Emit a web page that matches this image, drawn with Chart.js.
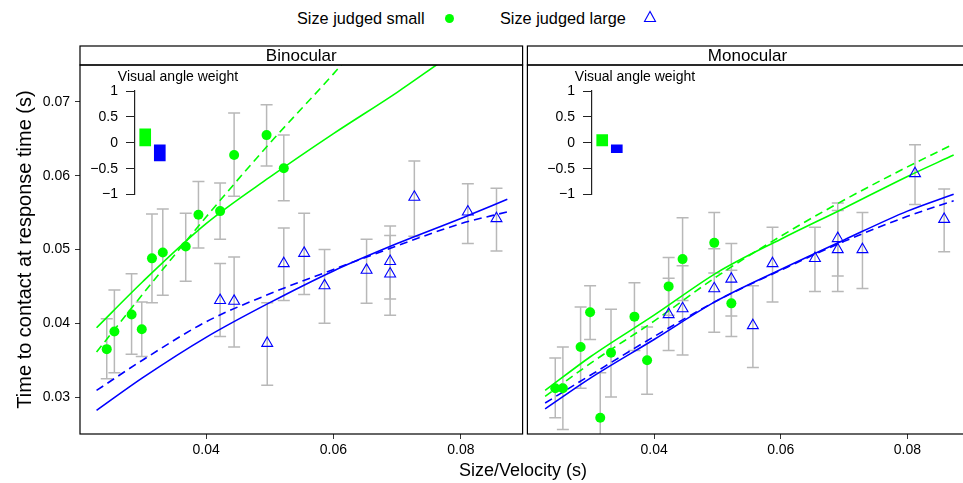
<!DOCTYPE html>
<html><head><meta charset="utf-8">
<script src="https://cdn.jsdelivr.net/npm/chart.js@4/dist/chart.umd.min.js"></script>
<style>
html,body{margin:0;padding:0;background:#fff;overflow:hidden;width:963px;height:483px;font-family:"Liberation Sans",Arial,sans-serif;color:#000;}
.abs{position:absolute;}
.lg{position:absolute;top:8px;line-height:20px;font-size:16.3px;white-space:nowrap;}
</style></head><body>
<div class="lg" id="lgSmall" style="left:297px;"></div>
<div class="abs" style="left:444.5px;top:13.5px;width:9px;height:9px;border-radius:50%;background:#00ff00;"></div>
<div class="lg" id="lgLarge" style="left:500px;"></div>
<svg class="abs" style="left:643px;top:10px;" width="14" height="13"><polygon points="7,1.5 1.5,11.5 12.5,11.5" fill="none" stroke="#0000ff" stroke-width="1.1"/></svg>
<canvas id="left" class="abs" style="left:0;top:0;" width="530" height="483"></canvas>
<canvas id="right" class="abs" style="left:520px;top:0;" width="455" height="483"></canvas>
<canvas id="insetL" class="abs" style="left:85px;top:66px;" width="186" height="145"></canvas>
<canvas id="insetR" class="abs" style="left:542px;top:66px;" width="186" height="145"></canvas>
<div class="abs" id="xTitle" style="left:373px;width:300px;top:460px;line-height:20px;font-size:18px;text-align:center;"></div>
<script>
const FONT = '"Liberation Sans", Arial, sans-serif';
const seriesNames = ['Size judged small', 'Size judged large'];
const panelNames = ['Binocular', 'Monocular'];
const xAxisTitle = 'Size/Velocity (s)';
const yAxisTitle = 'Time to contact at response time (s)';
const insetTitle = 'Visual angle weight';
const xTicks = [0.04, 0.06, 0.08];
const xTickLabels = ['0.04', '0.06', '0.08'];
const yTicks = [0.03, 0.04, 0.05, 0.06, 0.07];
const yTickLabels = ['0.03', '0.04', '0.05', '0.06', '0.07'];
const weightTicks = [-1, -0.5, 0, 0.5, 1];
const weightTickLabels = ['\u22121', '\u22120.5', '0', '0.5', '1'];

// Binocular - size judged small
const binoSmallX  = [0.0244, 0.0256, 0.0283, 0.0299, 0.0315, 0.0332, 0.0368, 0.0388, 0.0422, 0.0444, 0.0495, 0.0522];
const binoSmallY  = [0.0365, 0.0389, 0.0412, 0.0392, 0.0488, 0.0496, 0.0504, 0.0547, 0.0552, 0.0628, 0.0655, 0.0610];
const binoSmallLo = [0.0325, 0.0333, 0.0358, 0.0355, 0.0428, 0.0438, 0.0457, 0.0502, 0.0514, 0.0572, 0.0613, 0.0566];
const binoSmallHi = [0.0406, 0.0445, 0.0467, 0.0429, 0.0548, 0.0555, 0.0549, 0.0592, 0.0590, 0.0685, 0.0696, 0.0655];
// Binocular - size judged large
const binoLargeX  = [0.0422, 0.0444, 0.0496, 0.0522, 0.0554, 0.0586, 0.0652, 0.0689, 0.0689, 0.0727, 0.0811, 0.0856];
const binoLargeY  = [0.0431, 0.0430, 0.0373, 0.0481, 0.0495, 0.0451, 0.0472, 0.0484, 0.0467, 0.0571, 0.0551, 0.0542];
const binoLargeLo = [0.0382, 0.0368, 0.0316, 0.0431, 0.0439, 0.0400, 0.0427, 0.0433, 0.0411, 0.0518, 0.0508, 0.0498];
const binoLargeHi = [0.0481, 0.0490, 0.0428, 0.0529, 0.0549, 0.0500, 0.0514, 0.0532, 0.0519, 0.0620, 0.0589, 0.0583];
// Monocular - size judged small
const monoSmallX  = [0.0244, 0.0256, 0.0284, 0.0299, 0.0315, 0.0332, 0.0369, 0.0389, 0.0423, 0.0445, 0.0495, 0.0522];
const monoSmallY  = [0.0312, 0.0312, 0.0368, 0.0415, 0.0272, 0.0360, 0.0409, 0.0350, 0.0450, 0.0487, 0.0509, 0.0427];
const monoSmallLo = [0.0272, 0.0256, 0.0312, 0.0378, 0.0211, 0.0300, 0.0363, 0.0304, 0.0411, 0.0431, 0.0468, 0.0382];
const monoSmallHi = [0.0353, 0.0368, 0.0422, 0.0451, 0.0333, 0.0419, 0.0455, 0.0395, 0.0489, 0.0543, 0.0550, 0.0472];
// Monocular - size judged large
const monoLargeX  = [0.0423, 0.0445, 0.0495, 0.0522, 0.0556, 0.0587, 0.0654, 0.0690, 0.0690, 0.0729, 0.0812, 0.0858];
const monoLargeY  = [0.0412, 0.0420, 0.0447, 0.0460, 0.0397, 0.0481, 0.0488, 0.0515, 0.0500, 0.0500, 0.0603, 0.0541];
const monoLargeLo = [0.0363, 0.0357, 0.0388, 0.0410, 0.0340, 0.0429, 0.0443, 0.0464, 0.0443, 0.0447, 0.0561, 0.0497];
const monoLargeHi = [0.0461, 0.0478, 0.0501, 0.0508, 0.0451, 0.0530, 0.0530, 0.0563, 0.0553, 0.0550, 0.0642, 0.0582];

// Fitted curves
const fitX = [0.0228, 0.03, 0.04, 0.05, 0.06, 0.07, 0.08, 0.0873];
const binoSmallSolidX = [0.0228, 0.03, 0.04, 0.05, 0.06, 0.07, 0.0765];
const binoSmallSolidY = [0.0394, 0.0456, 0.0535, 0.0598, 0.0657, 0.0713, 0.0752];
const binoSmallDashX  = [0.0228, 0.03, 0.04, 0.05, 0.06, 0.0614];
const binoSmallDashY  = [0.0361, 0.0439, 0.0544, 0.0644, 0.0738, 0.0752];
const binoLargeSolidY = [0.0282, 0.0326, 0.0381, 0.0428, 0.0471, 0.0508, 0.0542, 0.0568];
const binoLargeDashY  = [0.0309, 0.0350, 0.0402, 0.0440, 0.0473, 0.0505, 0.0535, 0.0551];
const monoSmallSolidY = [0.0309, 0.0355, 0.0411, 0.0469, 0.0514, 0.0556, 0.0599, 0.0628];
const monoSmallDashY  = [0.0301, 0.0346, 0.0403, 0.0464, 0.0518, 0.0567, 0.0612, 0.0643];
const monoLargeSolidY = [0.0284, 0.0326, 0.0378, 0.0431, 0.0473, 0.0513, 0.0552, 0.0575];
const monoLargeDashY  = [0.0292, 0.0330, 0.0382, 0.0431, 0.0472, 0.0511, 0.0545, 0.0566];

// Visual angle weight insets: [low, high] for small, large
const binoWeight = [[-0.06, 0.27], [-0.35, -0.04]];
const monoWeight = [[-0.06, 0.16], [-0.19, -0.04]];

const GREEN = '#00ff00', BLUE = '#0000ff';

document.getElementById('lgSmall').textContent = seriesNames[0];
document.getElementById('lgLarge').textContent = seriesNames[1];
document.getElementById('xTitle').textContent = xAxisTitle;

const pts = (xs, ys) => xs.map((x, i) => ({x: x, y: ys[i]}));

function errorBarPlugin(sets) {
  return {
    id: 'errbars',
    beforeDatasetsDraw(chart) {
      const {ctx, chartArea: a, scales} = chart;
      const xs = scales.x, ys = scales.y;
      ctx.save();
      ctx.beginPath(); ctx.rect(a.left, a.top, a.right - a.left, a.bottom - a.top); ctx.clip();
      ctx.strokeStyle = '#b8b8b8'; ctx.lineWidth = 1.5;
      sets.forEach(s => s.x.forEach((xv, i) => {
        const px = xs.getPixelForValue(xv);
        const pl = ys.getPixelForValue(s.lo[i]);
        const ph = ys.getPixelForValue(s.hi[i]);
        ctx.beginPath();
        ctx.moveTo(px, pl); ctx.lineTo(px, ph);
        ctx.moveTo(px - 6, pl); ctx.lineTo(px + 6, pl);
        ctx.moveTo(px - 6, ph); ctx.lineTo(px + 6, ph);
        ctx.stroke();
      }));
      ctx.restore();
    }
  };
}
function framePlugin(title) {
  return {
    id: 'frame',
    afterDraw(chart) {
      const {ctx, chartArea: a} = chart;
      ctx.save();
      ctx.strokeStyle = '#000'; ctx.lineWidth = 1.2;
      ctx.strokeRect(a.left, a.top, a.right - a.left, a.bottom - a.top);
      ctx.strokeRect(a.left, a.top - 19, a.right - a.left, 19);
      ctx.fillStyle = '#000'; ctx.font = '17px ' + FONT;
      ctx.textAlign = 'center'; ctx.textBaseline = 'middle';
      ctx.fillText(title, (a.left + a.right) / 2, a.top - 9);
      ctx.restore();
    }
  };
}

function lineDs(data, color, dashed) {
  return {type: 'line', data: data, borderColor: color, borderWidth: 1.6, borderDash: dashed ? [8, 5] : [],
    pointRadius: 0, showLine: true, fill: false, cubicInterpolationMode: 'monotone'};
}

function makePanel(id, title, cfg, showY, xmin, xmax, pad) {
  const datasets = [
    {type: 'scatter', data: pts(cfg.sx, cfg.sy), pointStyle: 'circle', pointRadius: 5,
     backgroundColor: GREEN, borderColor: GREEN, borderWidth: 0},
    {type: 'scatter', data: pts(cfg.lx, cfg.ly), pointStyle: 'triangle', pointRadius: 6.3,
     backgroundColor: 'rgba(0,0,0,0)', borderColor: BLUE, borderWidth: 1.1},
    lineDs(cfg.sSolid, GREEN, false),
    lineDs(cfg.sDash, GREEN, true),
    lineDs(cfg.lSolid, BLUE, false),
    lineDs(cfg.lDash, BLUE, true)
  ];
  new Chart(document.getElementById(id), {
    type: 'scatter',
    data: {datasets: datasets},
    options: {
      responsive: false, animation: false, events: [],
      layout: {padding: pad},
      plugins: {legend: {display: false}, tooltip: {enabled: false}},
      scales: {
        x: {type: 'linear', min: xmin, max: xmax,
          afterBuildTicks: s => { s.ticks = xTicks.map(v => ({value: v})); },
          afterFit: s => { s.height = 49; },
          ticks: {callback: (v, i) => xTickLabels[i], font: {size: 14, family: FONT}, color: '#000', padding: 3, maxRotation: 0, autoSkip: false},
          grid: {display: true, drawOnChartArea: false, drawTicks: true, tickLength: 5, color: '#333'},
          border: {display: false}},
        y: {type: 'linear', min: 0.025, max: 0.075, display: showY,
          afterBuildTicks: s => { s.ticks = yTicks.map(v => ({value: v})); },
          afterFit: s => { s.width = showY ? 80 : 0; },
          ticks: {callback: (v, i) => yTickLabels[i], font: {size: 14, family: FONT}, color: '#000', padding: 5, autoSkip: false},
          grid: {display: true, drawOnChartArea: false, drawTicks: true, tickLength: 5, color: '#333'},
          border: {display: false},
          title: {display: true, text: yAxisTitle, font: {size: 20, family: FONT}, color: '#000', padding: {top: 13, bottom: 0}}}
      }
    },
    plugins: [errorBarPlugin([
      {x: cfg.sx, lo: cfg.slo, hi: cfg.shi},
      {x: cfg.lx, lo: cfg.llo, hi: cfg.lhi}
    ]), framePlugin(title)]
  });
}

makePanel('left', panelNames[0], {
  sx: binoSmallX, sy: binoSmallY, slo: binoSmallLo, shi: binoSmallHi,
  lx: binoLargeX, ly: binoLargeY, llo: binoLargeLo, lhi: binoLargeHi,
  sSolid: pts(binoSmallSolidX, binoSmallSolidY), sDash: pts(binoSmallDashX, binoSmallDashY),
  lSolid: pts(fitX, binoLargeSolidY), lDash: pts(fitX, binoLargeDashY)
}, true, 0.0202, 0.0897, {top: 65, right: 5, bottom: 0, left: 0});

makePanel('right', panelNames[1], {
  sx: monoSmallX, sy: monoSmallY, slo: monoSmallLo, shi: monoSmallHi,
  lx: monoLargeX, ly: monoLargeY, llo: monoLargeLo, lhi: monoLargeHi,
  sSolid: pts(fitX, monoSmallSolidY), sDash: pts(fitX, monoSmallDashY),
  lSolid: pts(fitX, monoLargeSolidY), lDash: pts(fitX, monoLargeDashY)
}, false, 0.0200, 0.0895, {top: 65, right: 5, bottom: 0, left: 5});

const insetTitlePlugin = {
  id: 'insetTitle',
  afterDraw(chart) {
    const ctx = chart.ctx;
    ctx.save();
    ctx.fillStyle = '#000'; ctx.font = '14px ' + FONT;
    ctx.textAlign = 'center'; ctx.textBaseline = 'middle';
    ctx.fillText(insetTitle, chart.width / 2, 11);
    ctx.restore();
  }
};

function makeInset(id, weights) {
  new Chart(document.getElementById(id), {
    type: 'bar',
    data: {datasets: [{
      data: weights.map((w, i) => ({x: i, y: w})),
      backgroundColor: [GREEN, BLUE], borderWidth: 0, barThickness: 11
    }]},
    options: {
      responsive: false, animation: false, events: [],
      layout: {padding: {top: 25, right: 101, bottom: 10, left: 0}},
      plugins: {legend: {display: false}, tooltip: {enabled: false}},
      scales: {
        x: {type: 'linear', display: false, min: -0.7, max: 1.7, offset: false},
        y: {type: 'linear', min: -1, max: 1,
          afterBuildTicks: s => { s.ticks = weightTicks.map(v => ({value: v})); },
          afterFit: s => { s.width = 50; },
          ticks: {callback: (v, i) => weightTickLabels[i], font: {size: 14, family: FONT}, color: '#000', padding: 8, autoSkip: false},
          grid: {display: true, drawOnChartArea: false, drawTicks: true, tickLength: 9, color: '#222'},
          border: {display: true, color: '#222', width: 1.2}}
      }
    },
    plugins: [insetTitlePlugin]
  });
}
makeInset('insetL', binoWeight);
makeInset('insetR', monoWeight);
</script>
</body></html>
